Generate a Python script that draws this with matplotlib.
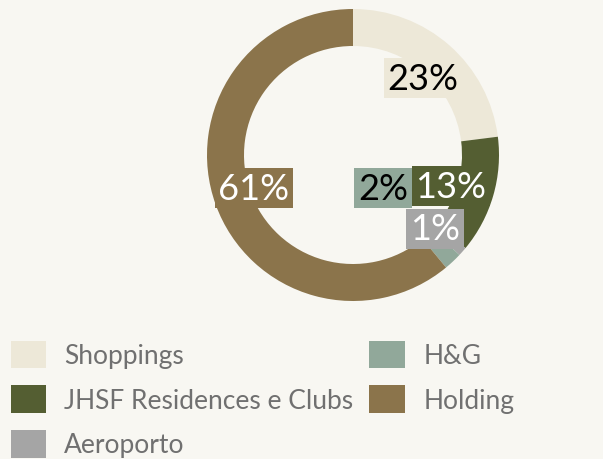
import matplotlib.pyplot as plt
from matplotlib.patches import Patch

categories = ["Shoppings", "JHSF Residences e Clubs", "Aeroporto", "H&G", "Holding"]
shares = [23, 13, 1, 2, 61]
colors = ["#EDE8D8", "#545E32", "#A5A5A5", "#91A89A", "#8B744B"]
label_colors = ["black", "white", "white", "black", "white"]
# where each percentage box sits, in pixels (y up)
label_pos = [(423, 381), (451, 273), (435, 230), (383, 271), (254, 271)]

BG = "#F8F7F2"
plt.rcParams["font.family"] = ["Lato", "DejaVu Sans"]

fig = plt.figure(figsize=(6.03, 4.6), dpi=100, facecolor=BG)
ax = fig.add_axes([0, 0, 1, 1])
ax.set_facecolor(BG)

ax.pie(shares, colors=colors, startangle=90, counterclock=False,
       center=(353, 304), radius=146,
       wedgeprops=dict(width=37, linewidth=0))

for val, pos, tc, bc in zip(shares, label_pos, label_colors, colors):
    ax.text(pos[0], pos[1], f"{val}%", ha="center", va="center",
            fontsize=26, color=tc,
            bbox=dict(boxstyle="square,pad=0.1", fc=bc, ec="none"))

ax.set_xlim(0, 603)
ax.set_ylim(0, 460)
ax.axis("off")

handles = [Patch(facecolor=c, edgecolor="none") for c in colors]
fig.legend(handles, categories, ncol=2, loc="upper left",
           bbox_to_anchor=(0.0, 1 - 331 / 460), frameon=False,
           fontsize=19, labelcolor="#707070",
           handlelength=1.36, handleheight=1.25, handletextpad=0.68,
           columnspacing=0.6, labelspacing=0.63, borderpad=0.4,
           borderaxespad=0)

plt.savefig("out.png", dpi=100, facecolor=BG)
